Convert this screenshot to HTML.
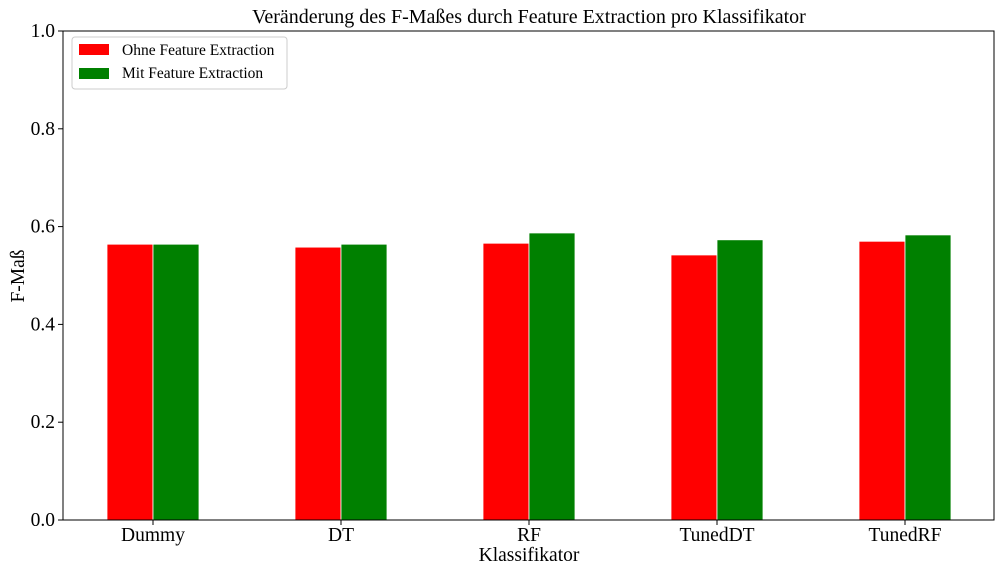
<!DOCTYPE html>
<html><head><meta charset="utf-8"><style>
body{margin:0;background:#fff;}
svg{display:block;font-family:"Liberation Serif",serif;}
</style></head><body>
<svg id="chart" width="1008" height="576">
<text x="529" y="23" text-anchor="middle" font-size="20">Veränderung des F-Maßes durch Feature Extraction pro Klassifikator</text>
<g id="bars"></g>
<g id="yticks"></g>
<g id="xticks"></g>
<rect x="63" y="31" width="931" height="489" fill="none" stroke="#000" stroke-width="1"/>
<text x="529" y="561" text-anchor="middle" font-size="19.5">Klassifikator</text>
<text transform="translate(24,276) rotate(-90)" text-anchor="middle" font-size="19.5">F-Maß</text>
<g>
<rect x="72" y="37" width="215" height="52" fill="#fff" stroke="#ccc" rx="3"/>
<rect x="79" y="44" width="30" height="11" fill="#ff0000"/>
<text x="122" y="55" font-size="15.5">Ohne Feature Extraction</text>
<rect x="79" y="68" width="30" height="11" fill="#008000"/>
<text x="122" y="78" font-size="15.5">Mit Feature Extraction</text>
</g>
</svg>
<script>
const categories=["Dummy","DT","RF","TunedDT","TunedRF"];
const ohne=[0.564,0.558,0.566,0.542,0.570];
const mit=[0.564,0.564,0.587,0.573,0.583];
const yTicks=["0.0","0.2","0.4","0.6","0.8","1.0"];
const NS="http://www.w3.org/2000/svg";
const y=v=>520-v*489;
const x=i=>153+i*188;
const bw=46;
function mk(tag,attrs,parent){const e=document.createElementNS(NS,tag);for(const k in attrs)e.setAttribute(k,attrs[k]);parent.appendChild(e);return e;}
const gb=document.getElementById('bars'),gy=document.getElementById('yticks'),gx=document.getElementById('xticks');
categories.forEach((c,i)=>{
 const r=mk('rect',{x:x(i)-bw,y:y(ohne[i]),width:bw,height:520-y(ohne[i]),fill:'#ff0000',stroke:'#fff','stroke-width':0.8},gb);
 
 
 const g=mk('rect',{x:x(i),y:y(mit[i]),width:bw,height:520-y(mit[i]),fill:'#008000',stroke:'#fff','stroke-width':0.8},gb);
 
 
 const t=mk('line',{x1:x(i),x2:x(i),y1:520,y2:525,stroke:'#000'},gx);
 
 
 const l=mk('text',{x:x(i),y:541,'text-anchor':'middle','font-size':19.5},gx);
 l.textContent=c;
 
 
});
yTicks.forEach(s=>{
 const v=parseFloat(s);
 const t=mk('line',{x1:58,x2:63,y1:y(v),y2:y(v),stroke:'#000'},gy);
 
 
 const l=mk('text',{x:55,y:y(v)+6,'text-anchor':'end','font-size':19.5},gy);
 l.textContent=s;
 
 
});
</script>
</body></html>
